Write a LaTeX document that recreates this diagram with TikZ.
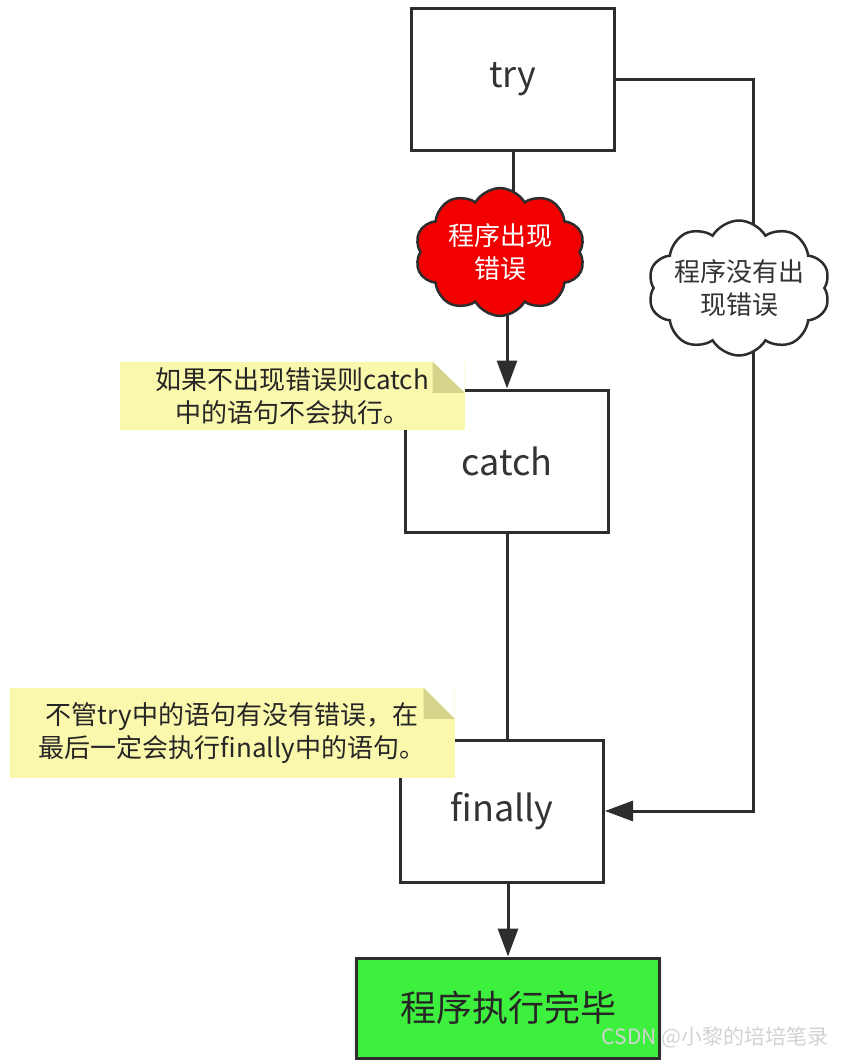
\documentclass[tikz,border=0pt]{standalone}
\usepackage{fontspec}
\setmainfont{Noto Sans CJK SC}
\usetikzlibrary{arrows.meta,positioning,shapes.symbols,backgrounds}
\definecolor{LineGray}{RGB}{45,45,45}
\definecolor{NoteYellow}{RGB}{250,248,172}
\definecolor{NoteFold}{RGB}{212,212,138}
\definecolor{ErrRed}{RGB}{242,0,0}
\definecolor{DoneGreen}{RGB}{62,240,62}

\begin{document}
\begin{tikzpicture}[x=1pt, y=-1pt,
  box/.style={draw=LineGray, line width=3pt, fill=white, text=black!80,
    minimum width=203pt, minimum height=142pt, font=\fontsize{36}{40}\selectfont},
  bubble/.style={cloud, cloud puffs=10, cloud puff arc=120, draw=LineGray, line width=2.5pt,
    align=center, inner sep=-12pt, font=\fontsize{26}{33}\selectfont},
  memo/.style={fill=NoteYellow, align=center, text=black!85, inner sep=0pt,
    font=\fontsize{26}{33}\selectfont},
  link/.style={draw=LineGray, line width=3pt},
  arr/.style={link, -{Triangle[length=28pt,width=20pt]}}]
  \useasboundingbox (0,0) rectangle (846,1063);

  % Main boxes
  \node[box] (try) at (513,79) {try};
  \node[box] (catch) at (507,461) {catch};
  \node[box] (finally) at (502,811) {finally};
  \node[draw=LineGray, line width=3pt, fill=DoneGreen, text=black!85,
    minimum width=303pt, minimum height=100pt,
    font=\fontsize{36}{40}\selectfont] (done) at (508,1008) {程序执行完毕};

  % Clouds on the two paths
  \node[bubble, fill=ErrRed, text=white, minimum width=170pt, minimum height=125pt]
    (err) at (500,252) {程序出现\\错误};
  \node[bubble, cloud ignores aspect, inner sep=-18pt, fill=white, text=black!80,
    minimum width=182pt, minimum height=135pt]
    (ok) at (739,288) {程序没有出\\现错误};
  \coordinate (turn) at (753,79);

  % Connectors
  \begin{scope}[on background layer]
    \draw[link] (try.south) -- (try.south |- err.center);
    \draw[arr] (catch.north |- err.center) -- (catch.north);
    \draw[link] (catch.south) -- (catch.south |- finally.north);
    \draw[arr] (done.north |- finally.south) -- (done.north);
    \draw[arr] (try.east) -- (turn) -- (turn |- finally.east) -- (finally.east);
  \end{scope}

  % Notes with folded corner
  \node[memo, minimum width=345pt, minimum height=68pt] (memo1) at (292,396)
    {如果不出现错误则catch\\中的语句不会执行。};
  \fill[white] ([xshift=-32pt]memo1.north east) -- (memo1.north east) -- ++(0,31) -- cycle;
  \fill[NoteFold] ([xshift=-32pt]memo1.north east) -- ++(0,31) -- ++(32,0) -- cycle;

  \node[memo, minimum width=445pt, minimum height=90pt] (memo2) at (232,733)
    {不管try中的语句有没有错误，在\\最后一定会执行finally中的语句。};
  \fill[white] ([xshift=-31pt]memo2.north east) -- (memo2.north east) -- ++(0,31) -- cycle;
  \fill[NoteFold] ([xshift=-31pt]memo2.north east) -- ++(0,31) -- ++(31,0) -- cycle;

  % Watermark
  \node[text=gray!35, anchor=east, font=\fontsize{21}{21}\selectfont] (mark) at (832,1037)
    {CSDN @小黎的培培笔录};
\end{tikzpicture}
\end{document}
